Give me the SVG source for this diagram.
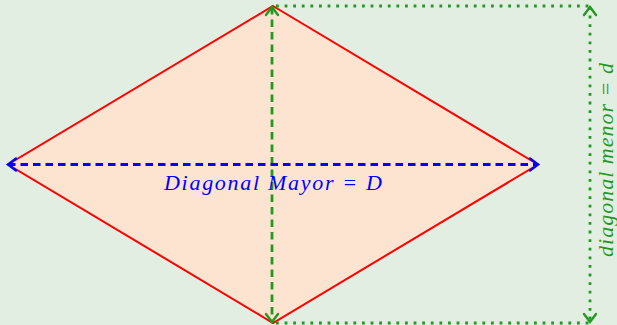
<svg xmlns="http://www.w3.org/2000/svg" width="617" height="325" viewBox="0 0 617 325">
<style>
.bg{fill:#e3eee3}
.rh{fill:#fce4d0;stroke:#ff0000;stroke-width:2;stroke-linejoin:miter}
.blue{stroke:#0000ff;stroke-width:3;stroke-dasharray:7.5 5;fill:none}
.gdash{stroke:#229922;stroke-width:2.8;stroke-dasharray:7.5 5;fill:none}
.gdot{stroke:#229922;stroke-width:2.8;stroke-dasharray:2.8 5.8;fill:none}
.lbl{font-family:"Liberation Serif",serif;font-style:italic;font-size:22px}
</style>
<defs>
<marker id="ab" markerUnits="userSpaceOnUse" markerWidth="20" markerHeight="20" refX="0" refY="0" viewBox="-12 -10 14 20" orient="auto-start-reverse">
<path d="M-8,-6 Q-2,-1.5 0,0 Q-2,1.5 -8,6" fill="none" stroke="#0000ff" stroke-width="2.4" stroke-linecap="round"/>
</marker>
<marker id="ag" markerUnits="userSpaceOnUse" markerWidth="20" markerHeight="20" refX="0" refY="0" viewBox="-12 -10 14 20" orient="auto-start-reverse">
<path d="M-8,-6 Q-2,-1.5 0,0 Q-2,1.5 -8,6" fill="none" stroke="#229922" stroke-width="2.4" stroke-linecap="round"/>
</marker>
</defs>
<rect class="bg" x="0" y="0" width="617" height="325"/>
<g id="rhombus">
<polygon class="rh" points="273,6 538,164.5 273,323 8,164.5"/>
</g>
<g id="connectors">
<line class="gdot" x1="276" y1="6" x2="590" y2="6"/>
<line class="gdot" x1="276" y1="323" x2="590" y2="323"/>
<line class="gdot" x1="590" y1="7" x2="590" y2="322" marker-start="url(#ag)" marker-end="url(#ag)"/>
<line class="gdash" x1="272" y1="7" x2="272" y2="322" marker-start="url(#ag)" marker-end="url(#ag)"/>
<line class="blue" x1="8" y1="164.5" x2="538" y2="164.5" marker-start="url(#ab)" marker-end="url(#ab)"/>
</g>
<g id="labels">
<text class="lbl" x="273" y="190" fill="#0000ff" text-anchor="middle" textLength="218" lengthAdjust="spacing">Diagonal Mayor = D</text>
<text class="lbl" transform="translate(613,160) rotate(-90)" x="0" y="0" fill="#229922" text-anchor="middle" textLength="194" lengthAdjust="spacing">diagonal menor = d</text>
</g>
</svg>
